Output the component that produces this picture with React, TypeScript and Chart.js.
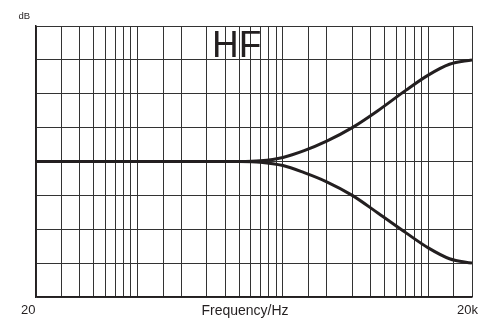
import React, { useEffect, useRef } from "react";
import { Chart, registerables } from "chart.js";

Chart.register(...registerables);

// Frequencies (Hz) and response levels (grid divisions)
const freqs = [20, 200, 500, 700, 1000, 1400, 2000, 3000, 4500, 7000, 10000, 14000, 20000];
const boost = [0, 0, 0, 0.02, 0.12, 0.32, 0.6, 1.0, 1.5, 2.1, 2.55, 2.87, 3.0];
const cut = [0, 0, 0, -0.02, -0.12, -0.33, -0.6, -1.0, -1.52, -2.1, -2.55, -2.87, -3.0];
const xRange = [20, 20000];
const yRange = [-4, 4];
const xLabels = ["20", "20k"];
const xTitle = "Frequency/Hz";
const yTitle = "dB";
const chartTitle = "HF";

const FONT = '"Liberation Sans", Arial, Helvetica, sans-serif';

const textPlugin = {
  id: "textPlugin",
  afterDraw(chart: any) {
    const ctx = chart.ctx;
    const area = chart.chartArea;
    ctx.save();
    ctx.fillStyle = "#231f20";
    ctx.textBaseline = "alphabetic";
    // dB
    ctx.font = `9.5px ${FONT}`;
    ctx.textAlign = "left";
    ctx.fillText(yTitle, 18.5, 18.5);
    // HF
    ctx.font = `37px ${FONT}`;
    ctx.fillText(chartTitle, 212, 56.5);
    // x labels
    ctx.font = `13px ${FONT}`;
    ctx.textAlign = "right";
    ctx.fillText(xLabels[0], area.left - 0.5, 313.5);
    ctx.textAlign = "left";
    ctx.fillText(xLabels[1], 457, 313.5);
    ctx.font = `14px ${FONT}`;
    ctx.textAlign = "center";
    ctx.fillText(xTitle, 245, 315);
    ctx.restore();
  },
};

export default function App() {
  const ref = useRef<HTMLCanvasElement | null>(null);
  useEffect(() => {
    if (!ref.current) return;
    const mk = (arr: number[]) => freqs.map((f, i) => ({ x: f, y: arr[i] }));
    const lineStyle = {
      borderColor: "#231f20",
      borderWidth: 3,
      pointRadius: 0,
      fill: false,
      cubicInterpolationMode: "monotone" as const,
    };
    const chart = new Chart(ref.current, {
      type: "line",
      data: {
        datasets: [
          { data: mk(boost), ...lineStyle },
          { data: mk(cut), ...lineStyle },
        ],
      },
      options: {
        animation: false,
        responsive: false,
        maintainAspectRatio: false,
        layout: { padding: { left: 36, top: 26, right: 19, bottom: 25 } },
        plugins: {
          legend: { display: false },
          tooltip: { enabled: false },
          title: { display: false },
        },
        scales: {
          x: {
            type: "logarithmic",
            min: xRange[0],
            max: xRange[1],
            ticks: { display: false, autoSkip: false },
            grid: { color: "#333", lineWidth: 1, drawTicks: false },
            border: { color: "#231f20", width: 1.5 },
            afterFit: (s: any) => {
              s.height = 0;
            },
          },
          y: {
            type: "linear",
            min: yRange[0],
            max: yRange[1],
            ticks: { display: false, stepSize: 1 },
            grid: { color: "#333", lineWidth: 1, drawTicks: false },
            border: { color: "#231f20", width: 1.5 },
            afterFit: (s: any) => {
              s.width = 0;
            },
          },
        },
      },
      plugins: [textPlugin],
    });
    return () => chart.destroy();
  }, []);
  return (
    <div style={{ position: "absolute", left: 0, top: 0, width: 491, height: 322, background: "#fff" }}>
      <canvas ref={ref} width={491} height={322} style={{ display: "block" }} />
    </div>
  );
}
